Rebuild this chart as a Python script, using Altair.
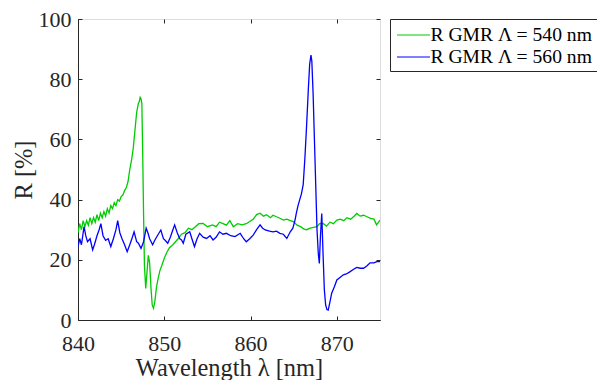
import altair as alt
import pandas as pd

# ---- data ----
wl_green = [840.0, 840.2, 840.4, 840.6, 840.8, 841.0, 841.2, 841.4, 841.6, 841.8,
            842.0, 842.2, 842.4, 842.6, 842.8, 843.0, 843.2, 843.4, 843.6, 843.8,
            844.0, 844.2, 844.4, 844.6, 844.8, 845.0, 845.2, 845.4, 845.6, 845.8,
            846.0, 846.2, 846.4, 846.6, 846.8, 847.0, 847.1, 847.2, 847.3, 847.4,
            847.5, 847.6, 847.7, 847.85, 848.0, 848.15, 848.3, 848.45, 848.6, 848.75,
            848.9, 849.1, 849.3, 849.5, 849.7, 850.0, 850.3, 850.6, 851.0, 851.3,
            851.6, 852.0, 852.4, 852.8, 853.2, 853.6, 854.0, 854.5, 855.0, 855.6,
            856.0, 856.4, 856.8, 857.2, 857.6, 858.0, 858.5, 859.0, 859.5, 859.9,
            860.3, 860.7, 861.1, 861.5, 861.85, 862.3, 862.6, 863.0, 863.4, 863.8,
            864.2, 864.6, 864.95, 865.4, 865.8, 866.2, 866.5, 866.9, 867.3, 867.7,
            868.0, 868.4, 868.8, 869.2, 869.6, 870.0, 870.4, 870.8, 871.15, 871.6,
            872.0, 872.3, 872.7, 873.1, 873.5, 873.9, 874.3, 874.6, 875.0]
r_green = [29, 32, 30, 33, 31, 33, 31.5, 34, 32, 34,
           32.5, 35, 33, 35.5, 34, 36, 34.5, 37, 35.5, 38,
           37, 39, 38, 40, 39.5, 41, 41.5, 43, 44, 46,
           50, 53, 57, 63, 69, 72, 72.5, 74, 73.5, 72,
           55, 35, 18, 10.5, 16, 21.5, 19, 11, 5, 3.9,
           6, 11, 14, 16.5, 18, 20.5, 22.5, 24, 25, 26,
           27, 28.5, 29, 30.5, 30, 31, 32, 32.1, 31, 31.6,
           31, 32.5, 32, 31.5, 33, 31, 32, 31.6, 32, 32.7,
           33.5, 35, 35.5, 34.5, 35, 34, 34.8, 34.3, 33.8, 33.2,
           33.5, 33, 32.7, 31.5, 31, 30.2, 30, 30.5, 30.8, 31,
           32, 32.1, 31.2, 32.5, 32, 33.2, 33.5, 33, 34, 33.5,
           34.5, 35.4, 34.5, 34.8, 34.3, 33.8, 33.5, 31.6, 33.2]

wl_blue = [840.0, 840.2, 840.4, 840.7, 840.9, 841.1, 841.4, 841.7, 841.9, 842.2,
           842.45, 842.65, 842.9, 843.2, 843.5, 843.8, 844.1, 844.4, 844.6, 844.85,
           845.1, 845.4, 845.7, 846.0, 846.3, 846.5, 846.8, 847.0, 847.3, 847.6,
           847.9, 848.1, 848.3, 848.65, 848.9, 849.2, 849.6, 849.9, 850.1, 850.4,
           850.7, 851.0, 851.2, 851.5, 851.8, 852.0, 852.2, 852.5, 852.95, 853.2,
           853.5, 853.8, 854.1, 854.5, 854.9, 855.3, 855.65, 856.0, 856.4, 856.8,
           857.2, 857.7, 858.2, 858.8, 859.2, 859.5, 859.9, 860.3, 860.7, 861.1,
           861.4, 861.7, 862.2, 862.6, 863.0, 863.4, 863.8, 864.2, 864.6, 864.9,
           865.15, 865.3, 865.5, 865.7, 865.9, 866.1, 866.3, 866.5, 866.7, 866.85,
           867.0, 867.1, 867.25, 867.4, 867.55, 867.7, 867.85, 867.97, 868.1, 868.25,
           868.4, 868.55, 868.7, 868.85, 869.0, 869.2, 869.4, 869.7, 870.0, 870.4,
           870.75, 871.1, 871.5, 871.9, 872.3, 872.7, 873.1, 873.5, 873.85, 874.3,
           874.7, 875.0]
r_blue = [24.4, 27, 25, 31, 28, 26, 27, 23.3, 25, 28,
          30, 32, 28, 26.5, 27, 24.4, 27, 30, 33, 29,
          27, 25, 22.7, 25, 27.5, 29.3, 26, 25.5, 23.8, 26,
          30.5, 29, 27, 25, 26.5, 28, 29.9, 27, 26.5, 25.5,
          27.5, 30, 31.6, 29, 27, 26.6, 25.5, 28.5, 29.3, 27,
          24.4, 27, 28.8, 27.5, 27.1, 28, 26.6, 27.5, 29.3, 28.5,
          28.8, 28, 27.7, 28.8, 27, 26, 27, 28.2, 30, 31.6,
          30.5, 29.9, 29.5, 29.3, 29.5, 28.8, 28.5, 27.1, 29.3, 30.5,
          33.2, 35.4, 38, 40, 42, 45, 54, 65, 77, 85,
          88, 86, 75, 60, 45, 30, 22, 18.8, 28, 35.4,
          22, 10, 5, 3.5, 3.3, 6, 8.9, 11, 13.3, 14.2,
          15, 15.3, 16, 16.8, 17.5, 17.2, 17.2, 18, 19, 19,
          19.5, 19.4]

series_names = ["R GMR \u039b = 540 nm", "R GMR \u039b = 560 nm"]
series_colors = ["#00cc00", "#0000ff"]
x_ticks = [840, 850, 860, 870]
y_ticks = [0, 20, 40, 60, 80, 100]

df = pd.concat([
    pd.DataFrame({"wl": wl_green, "R": r_green, "series": series_names[0]}),
    pd.DataFrame({"wl": wl_blue, "R": r_blue, "series": series_names[1]}),
])

W, H = 302, 301
FONT = "Liberation Serif"
AX = "#262626"

xs = alt.Scale(domain=[840, 875], nice=False, zero=False)
ys = alt.Scale(domain=[0, 100], nice=False, zero=False)

x_main = alt.Axis(orient="bottom", values=x_ticks, format="d", ticks=False, grid=False,
                  domain=True, domainColor=AX, labelFont=FONT, labelFontSize=22,
                  labelColor=AX, labelPadding=13, labelFlush=False, labelOverlap=False,
                  title="Wavelength \u03bb [nm]",
                  titleFont=FONT, titleFontSize=24.4, titleFontWeight="normal",
                  titleColor=AX, titlePadding=2)
x_in_bottom = alt.Axis(orient="top", offset=-H, values=x_ticks, ticks=True, tickSize=4,
                       tickColor=AX, labels=False, domain=False, grid=False, title="")
x_in_top = alt.Axis(orient="bottom", offset=-H, values=x_ticks, ticks=True, tickSize=4,
                    tickColor=AX, labels=False, domain=False, grid=False, title="")

y_main = alt.Axis(orient="left", values=y_ticks, format="d", ticks=False, grid=False,
                  domain=True, domainColor=AX, labelFont=FONT, labelFontSize=22,
                  labelColor=AX, labelPadding=7, labelFlush=False, labelOverlap=False,
                  title="R [%]", titleFont=FONT,
                  titleFontSize=24.4, titleFontWeight="normal", titleColor=AX,
                  titlePadding=2)
y_in_left = alt.Axis(orient="right", offset=-W, values=y_ticks, ticks=True, tickSize=4,
                     tickColor=AX, labels=False, domain=False, grid=False, title="")
y_in_right = alt.Axis(orient="left", offset=-W, values=y_ticks, ticks=True, tickSize=4,
                      tickColor=AX, labels=False, domain=False, grid=False, title="")

base = alt.Chart(df)

lines = base.mark_line(strokeWidth=1.3, clip=True).encode(
    x=alt.X("wl:Q", scale=xs, axis=x_main),
    y=alt.Y("R:Q", scale=ys, axis=y_main),
    color=alt.Color("series:N",
                    scale=alt.Scale(domain=series_names, range=series_colors),
                    legend=alt.Legend(orient="none", legendX=312, legendY=0, title=None,
                                      symbolType="M-1.5,0H1.5", symbolSize=484,
                                      symbolStrokeWidth=1.2, symbolOffset=7.5,
                                      labelFont=FONT,
                                      labelFontSize=19.6, labelColor="black",
                                      labelOffset=5, labelLimit=400, rowPadding=0,
                                      padding=4, strokeColor=AX, fillColor="white")),
)

ghost1 = base.mark_line(opacity=0).encode(
    x=alt.X("wl:Q", scale=xs, axis=x_in_bottom),
    y=alt.Y("R:Q", scale=ys, axis=y_in_left),
    detail="series:N",
)
ghost2 = base.mark_line(opacity=0).encode(
    x=alt.X("wl:Q", scale=xs, axis=x_in_top),
    y=alt.Y("R:Q", scale=ys, axis=y_in_right),
    detail="series:N",
)

chart = alt.layer(lines, ghost1, ghost2).resolve_axis(
    x="independent", y="independent"
).properties(
    width=W, height=H,
    autosize=alt.AutoSizeParams(type="none"),
    padding={"left": 78, "top": 19, "right": 217, "bottom": 60},
    background="white",
).configure_view(stroke=AX, strokeWidth=1).configure(font=FONT)

chart.save("out.html", embed_options={"renderer": "svg", "actions": False})
